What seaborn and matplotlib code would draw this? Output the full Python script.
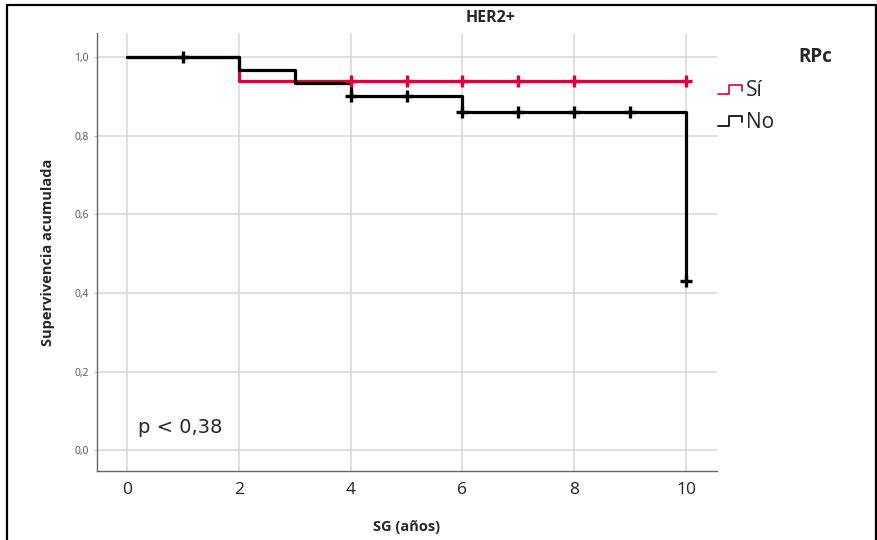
import numpy as np
import pandas as pd
import seaborn as sns
import matplotlib.pyplot as plt
from matplotlib.lines import Line2D
from matplotlib.legend_handler import HandlerBase
from matplotlib.ticker import FuncFormatter

sns.set_style("white")
plt.rcParams['font.family'] = ['Open Sans', 'DejaVu Sans']

# Kaplan-Meier steps (time in years, cumulative survival)
si_t = [0, 2, 10]
si_s = [1.0, 0.938, 0.938]
no_t = [0, 2, 3, 4, 6, 10]
no_s = [1.0, 0.967, 0.933, 0.900, 0.860, 0.430]

# censored observations
si_cens_t = [4, 5, 6, 7, 8, 10]
si_cens_s = [0.938, 0.938, 0.938, 0.938, 0.938, 0.938]
no_cens_t = [1, 4, 5, 6, 7, 8, 9, 10]
no_cens_s = [1.0, 0.900, 0.900, 0.860, 0.860, 0.860, 0.860, 0.430]

groups = ["Sí", "No"]
colors = {"Sí": "#d5063b", "No": "#000000"}
x_ticks = [0, 2, 4, 6, 8, 10]
y_ticks = [0.0, 0.2, 0.4, 0.6, 0.8, 1.0]

steps = pd.concat([
    pd.DataFrame({"t": si_t, "s": si_s, "RPc": "Sí"}),
    pd.DataFrame({"t": no_t, "s": no_s, "RPc": "No"}),
])
cens = pd.concat([
    pd.DataFrame({"t": si_cens_t, "s": si_cens_s, "RPc": "Sí"}),
    pd.DataFrame({"t": no_cens_t, "s": no_cens_s, "RPc": "No"}),
])

fig = plt.figure(figsize=(8.78, 5.40), dpi=100)
ax = fig.add_axes([0.1105, 0.1278, 0.7062, 0.8111])

for g in groups:
    sns.lineplot(data=steps[steps["RPc"] == g], x="t", y="s", ax=ax,
                 color=colors[g], linewidth=2.3, drawstyle="steps-post",
                 estimator=None, legend=False, zorder=3)
    sns.scatterplot(data=cens[cens["RPc"] == g], x="t", y="s", ax=ax,
                    color=colors[g], marker="+", s=70, linewidth=2.4,
                    legend=False, zorder=4)

ax.set_xlim(-0.537, 10.555)
ax.set_ylim(-0.053, 1.061)
ax.set_xticks(x_ticks)
ax.set_yticks(y_ticks)
ax.yaxis.set_major_formatter(FuncFormatter(lambda v, p: f"{v:.1f}".replace(".", ",")))
ax.grid(True, color="#dadada", linewidth=1.2)
ax.set_axisbelow(True)
for side in ["top", "right"]:
    ax.spines[side].set_visible(False)
for side in ["left", "bottom"]:
    ax.spines[side].set_color("#666666")
    ax.spines[side].set_linewidth(1.0)
ax.tick_params(axis="x", labelsize=12.5, colors="#222222", length=0, pad=8)
ax.tick_params(axis="y", labelsize=7.5, labelcolor="#555555", color="#bbbbbb",
               length=2, pad=4, left=True)
ax.set_xlabel("SG (años)", fontsize=10.5, fontweight="bold", labelpad=16)
ax.set_ylabel("Supervivencia acumulada", fontsize=10.5, fontweight="bold", labelpad=14)

ax.text(0.2, 0.058, "p < 0,38", fontsize=14, va="center", ha="left",
        family="DejaVu Sans")

fig.text(0.559, 0.966, "HER2+", fontsize=11.5, fontweight="bold", ha="center",
         va="center")
fig.text(0.928, 0.894, "RPc", fontsize=13.5, fontweight="bold", ha="center",
         va="center")


class StepHandler(HandlerBase):
    def create_artists(self, legend, orig_handle, xdescent, ydescent,
                       width, height, fontsize, trans):
        xs = np.array([0.0, 0.45, 0.45, 1.0, 1.0]) * width - xdescent
        ys = np.array([0.15, 0.15, 0.8, 0.8, 0.4]) * height - ydescent
        return [Line2D(xs, ys, color=orig_handle.get_color(), lw=1.2,
                       transform=trans)]


handles = [Line2D([], [], color=colors[g]) for g in groups]
fig.legend(handles, groups, handler_map={Line2D: StepHandler()},
           loc="upper left", bbox_to_anchor=(0.818, 0.851), frameon=False,
           fontsize=15, handlelength=1.15, handletextpad=0.2, labelspacing=0.5,
           borderpad=0, borderaxespad=0)

# cell border around the figure
for xs, ys in [([0.008, 0.008], [0.0, 0.991]),
               ([0.008, 0.998], [0.991, 0.991]),
               ([0.998, 0.998], [0.0, 0.991])]:
    fig.add_artist(Line2D(xs, ys, color="black", linewidth=1.6,
                          transform=fig.transFigure))

plt.savefig("out.png", dpi=100)
